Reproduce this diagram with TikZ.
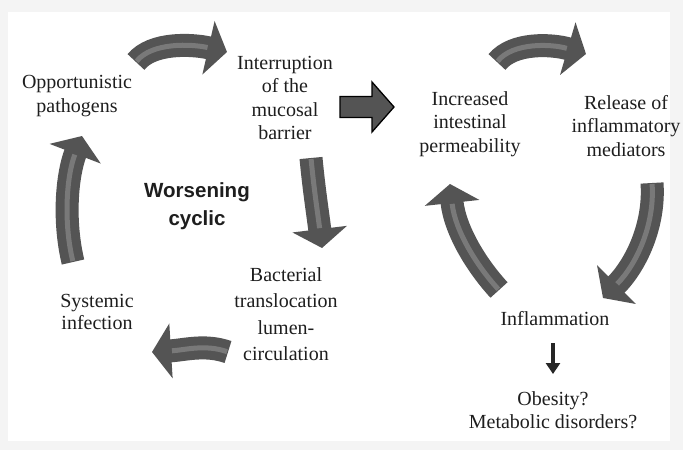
\documentclass[tikz,border=0pt]{standalone}
\usepackage{fontspec}
\newfontfamily\serifmain{LiberationSerif}[Extension=.ttf, UprightFont=*-Regular, BoldFont=*-Bold]
\newfontfamily\boldsans{Liberation Sans}
\usetikzlibrary{arrows.meta}
\definecolor{arrowgray}{HTML}{545454}
\definecolor{arrowhigh}{HTML}{8A8A8A}
\definecolor{txt}{HTML}{1E1E1E}
\tikzset{
  lbl/.style={align=center, text=txt, font=\serifmain\fontsize{20}{23.5}\selectfont, inner sep=0pt},
  carrow/.style={draw=arrowgray, line width=23pt, -{Triangle[width=54pt,length=19pt]}},
  chigh/.style={draw=arrowhigh, line width=5pt, opacity=0.7, shorten >=20pt, shorten <=1pt},
  blockarrow/.style={draw=black, line width=1.3pt, fill=arrowgray, line join=miter},
}
\newcommand{\cyclearrow}[1]{\draw[carrow] #1; \draw[chigh] #1;}
\begin{document}
\begin{tikzpicture}[x=1pt,y=-1pt]
\useasboundingbox (0,0) rectangle (683,450);
\fill[gray!9] (0,0) rectangle (683,450);
\fill[white] (8,12) rectangle (670,441);

% text nodes
\node[lbl] (opp) at (77,96) {Opportunistic\\pathogens};
\node[lbl] (intr) at (285,98) {Interruption\\of the\\mucosal\\barrier};
\node[lbl] (incr) at (470,124) {Increased\\intestinal\\permeability};
\node[lbl] (rel) at (626,126) {Release of\\inflammatory\\mediators};
\node[lbl] (infl) at (555,319) {Inflammation};
\node[lbl] (obes) at (553,410) {Obesity?\\Metabolic disorders?};
\node[lbl, font=\boldsans\bfseries\fontsize{20.5}{28}\selectfont] (worse) at (197,206) {Worsening\\cyclic};
\node[lbl, font=\serifmain\fontsize{20}{26.5}\selectfont] (bact) at (286,314) {Bacterial\\translocation\\lumen-\\circulation};
\node[lbl, font=\serifmain\fontsize{20}{22.5}\selectfont] (syst) at (97,312) {Systemic\\infection};

% straight block arrow between the two cycles
\coordinate (big) at (340,107);
\draw[blockarrow] (big) ++(0,-10.5) -- ++(32,0) -- ++(0,-14.5) -- ++(22,25)
   -- ++(-22,25) -- ++(0,-14.5) -- ++(-32,0) -- cycle;

% curved arrows: coordinates
\coordinate (a1s) at (136,62); \coordinate (a1c) at (152,42); \coordinate (a1d) at (192,44); \coordinate (a1e) at (227,52);
\coordinate (a2s) at (497,62); \coordinate (a2c) at (513,42); \coordinate (a2d) at (552,44); \coordinate (a2e) at (586,54);
\coordinate (a4s) at (311,158); \coordinate (a4c) at (314,190); \coordinate (a4d) at (318,215); \coordinate (a4e) at (322,248);
\coordinate (a5s) at (228,352); \coordinate (a5c) at (205,344); \coordinate (a5d) at (185,350); \coordinate (a5e) at (152,352);
\coordinate (a6s) at (73,262); \coordinate (a6c) at (63,220); \coordinate (a6d) at (67,175); \coordinate (a6e) at (82,136);
\coordinate (a7s) at (499,290); \coordinate (a7c) at (476,265); \coordinate (a7d) at (455,230); \coordinate (a7e) at (450,184);
\coordinate (a8s) at (652,183); \coordinate (a8c) at (655,225); \coordinate (a8d) at (636,265); \coordinate (a8e) at (603,298);

\cyclearrow{(a1s) .. controls (a1c) and (a1d) .. (a1e)}
\cyclearrow{(a2s) .. controls (a2c) and (a2d) .. (a2e)}
\cyclearrow{(a4s) .. controls (a4c) and (a4d) .. (a4e)}
\cyclearrow{(a5s) .. controls (a5c) and (a5d) .. (a5e)}
\cyclearrow{(a6s) .. controls (a6c) and (a6d) .. (a6e)}
\cyclearrow{(a7s) .. controls (a7c) and (a7d) .. (a7e)}
\cyclearrow{(a8s) .. controls (a8c) and (a8d) .. (a8e)}

% small arrow below Inflammation
\coordinate (sms) at (553,343);
\coordinate (sme) at (553,374);
\draw[draw=black!85, line width=4.5pt, -{Triangle[width=14pt,length=11pt]}] (sms) -- (sme);
\end{tikzpicture}
\end{document}
